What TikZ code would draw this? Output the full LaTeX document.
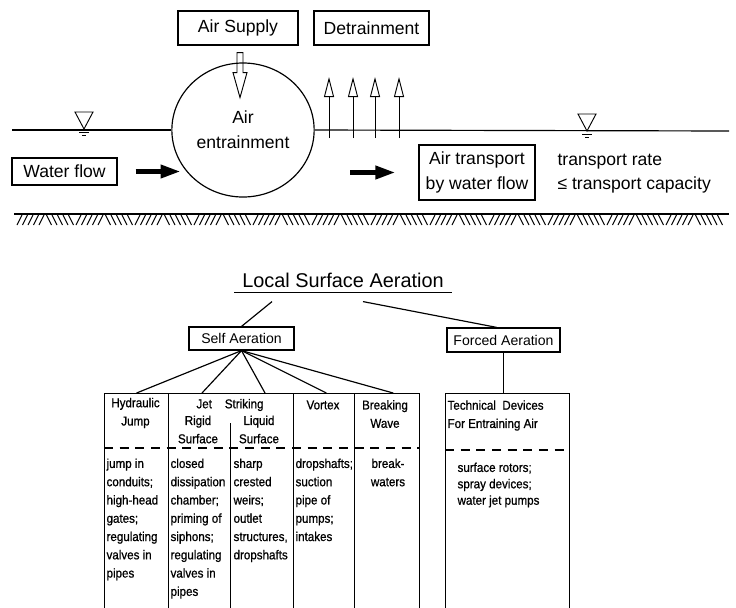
\documentclass[tikz,border=0pt]{standalone}
\usepackage{fontspec}
\setmainfont{Liberation Sans}
\newfontfamily\tabfont[FakeStretch=0.9, FakeBold=0.8]{Liberation Sans}
\usetikzlibrary{positioning,arrows.meta,shapes.geometric}

\tikzset{
  bigtxt/.style={font=\fontsize{15}{21}\selectfont},
  boxtxt/.style={font=\fontsize{12}{14}\selectfont},
  tabtxt/.style={font=\tabfont\fontsize{11}{15.6}\selectfont},
  colbox/.style={draw, rectangle, anchor=north west, minimum height=6.6cm, inner sep=0pt},
  fatarrow/.style={line width=4pt, -{Triangle[length=0.6cm, width=0.38cm]}},
  openarrow/.style={line width=0.8pt, -{Triangle[open, length=0.6cm, width=0.3cm]}},
  dashline/.style={dash pattern=on 0.27cm off 0.2cm}
}

\begin{document}
\begin{tikzpicture}[x=0.03cm, y=-0.03cm, line width=1pt]
    \useasboundingbox (0,0) rectangle (736,607);
    \clip (0,0) rectangle (736,607);

    % Flow channel
    \node[draw, minimum width=3.6cm, minimum height=1.02cm, bigtxt] (supply) at (238,28) {Air Supply};
    \node[draw, minimum width=3.45cm, minimum height=1.02cm, bigtxt] (detrain) at (371.5,28) {Detrainment};
    \node[draw, ellipse, minimum width=3.96cm, minimum height=4.02cm, align=center, bigtxt] (entrain) at (243,130) {Air\\entrainment};
    \draw[line width=0.8pt] (supply.south) ++(-1,7) -- ++(0,20) -- ++(-4,0) -- ++(7,25)
        -- ++(7,-25) -- ++(-4,0) -- ++(0,-20) -- cycle;

    % Water surface
    \coordinate (wl) at (12,130);
    \coordinate (wr) at (729,131);
    \draw (wl) -- (entrain.west);
    \draw (entrain.east) -- (wr);
    \foreach \x/\y in {84/129, 587/131} {
      \draw[line width=0.8pt] (\x-9,\y-17) -- (\x+9,\y-17) -- (\x,\y) -- cycle;
      \draw[line width=0.8pt] (\x-5,\y+3) -- (\x+5,\y+3);
      \draw[line width=0.8pt] (\x-2,\y+6) -- (\x+2,\y+6);
    }

    \node[draw, minimum width=3.15cm, minimum height=0.81cm, bigtxt] (water) at (64.5,171.5) {Water flow};
    \node[draw, minimum width=3.48cm, minimum height=1.65cm, align=center, bigtxt] (transport) at (477,172.5) {Air transport\\by water flow};
    \node[anchor=west, align=left, inner sep=0pt, bigtxt] (rate) at (557,173.5) {transport rate\\≤ transport capacity};

    \draw[fatarrow] ([xshift=0.54cm]water.east) -- ++(45,0);
    \draw[fatarrow] ([xshift=-2.04cm]transport.west) -- ([xshift=-0.69cm]transport.west);

    % Detrainment
    \foreach \x in {329,353,375,399}
      \draw[openarrow] (\x,138) -- (\x,77);

    % Channel bed
    \draw (14,214) -- (729,214);
    \foreach \g in {0,...,23} {
      \foreach \k in {0,...,4} {
        \pgfmathsetmacro{\xa}{17+\g*29.5+\k*5.5}
        \ifodd\g
          \draw[line width=0.8pt] (\xa,215) -- (\xa+5,225);
        \else
          \draw[line width=0.8pt] (\xa,225) -- (\xa+5,215);
        \fi
      }
    }

    % Classification
    \node[minimum width=6.48cm, minimum height=0.72cm, font=\fontsize{17}{20}\selectfont] (title) at (343,280) {Local Surface Aeration};
    \draw (title.south west) -- (title.south east);
    \node[draw, minimum width=3.15cm, minimum height=0.69cm, boxtxt] (self) at (241.5,338.5) {Self Aeration};
    \node[draw, minimum width=3.39cm, minimum height=0.72cm, boxtxt] (forced) at (503.5,340) {Forced Aeration};
    \draw ([xshift=-2.13cm,yshift=-0.27cm]title.south) -- (self.north);
    \draw ([xshift=0.6cm,yshift=-0.27cm]title.south) -- ([xshift=-0.2cm]forced.north);

    \node[colbox, minimum width=1.92cm] (hyd) at (104,393) {};
    \node[colbox, minimum width=3.75cm] (jet) at (168,393) {};
    \node[colbox, minimum width=1.83cm] (vortex) at (293,393) {};
    \node[colbox, minimum width=1.95cm] (brk) at (354,393) {};
    \node[colbox, minimum width=3.72cm] (tech) at (445,393) {};

    \draw (self.south) -- (hyd.north);
    \draw (self.south) -- ([xshift=1.02cm]jet.north west);
    \draw (self.south) -- ([xshift=2.91cm]jet.north west);
    \draw (self.south) -- ([xshift=1cm]vortex.north west);
    \draw (self.south) -- ([xshift=-0.81cm]brk.north east);
    \draw (forced.south) -- (forced.south |- tech.north);

    \draw[dashline] ([yshift=-1.65cm]hyd.north west) -- ([yshift=-1.65cm]brk.north east);
    \draw[dashline] ([yshift=-1.71cm]tech.north west) -- ([yshift=-1.71cm]tech.north east);
    \draw[line width=0.7pt] ([xshift=1.87cm,yshift=-0.9cm]jet.north west) -- ([xshift=1.87cm]jet.south west);

    % Headers
    \node[tabtxt, align=center] (hydhead) at (135.5,413) {Hydraulic\\Jump};
    \node[tabtxt] (jethead) at (230,405) {Jet\quad Striking};
    \node[tabtxt, align=center] (rigid) at (198,429.5) {Rigid\\Surface};
    \node[tabtxt, align=center] (liquid) at (259,429.5) {Liquid\\Surface};
    \node[tabtxt] (vorhead) at (323,405) {Vortex};
    \node[tabtxt, align=center] (brkhead) at (385,414) {Breaking\\Wave};
    \node[tabtxt, align=left, anchor=west, inner sep=0pt] (techhead) at (447,415.5) {Technical\ \ Devices\\For Entraining Air};

    % Examples
    \node[tabtxt, align=left, anchor=north west, inner sep=0pt] (hydex) at (106,458) {jump in\\conduits;\\high-head\\gates;\\regulating\\valves in\\pipes};
    \node[tabtxt, align=left, anchor=north west, inner sep=0pt] (rigidex) at (170,458) {closed\\dissipation\\chamber;\\priming of\\siphons;\\regulating\\valves in\\pipes};
    \node[tabtxt, align=left, anchor=north west, inner sep=0pt] (liquidex) at (233,458) {sharp\\crested\\weirs;\\outlet\\structures,\\dropshafts};
    \node[tabtxt, align=left, anchor=north west, inner sep=0pt] (vorex) at (295,458) {dropshafts;\\suction\\pipe of\\pumps;\\intakes};
    \node[tabtxt, align=center, anchor=north, inner sep=0pt] (brkex) at (388,458) {break-\\waters};
    \node[tabtxt, align=left, anchor=north west, inner sep=0pt, font=\tabfont\fontsize{11}{14}\selectfont] (techex) at (457,462) {surface rotors;\\spray devices;\\water jet pumps};
\end{tikzpicture}
\end{document}
